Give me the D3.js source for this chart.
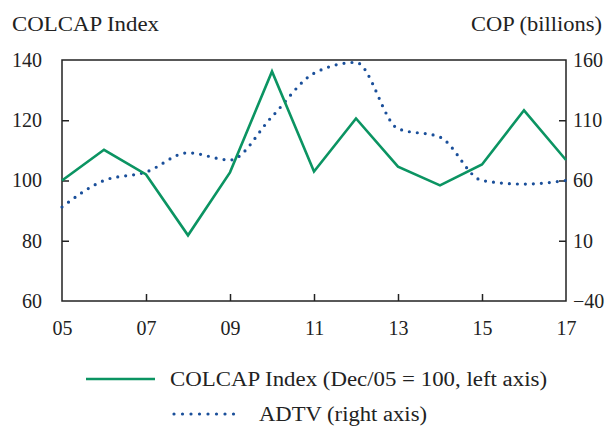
<!DOCTYPE html>
<html><head><meta charset="utf-8">
<script src="https://cdn.jsdelivr.net/npm/d3@7"></script>
<style>
html,body{margin:0;padding:0;background:#fff;}
text{font-family:"Liberation Serif","DejaVu Serif",serif;fill:#222;}
</style></head>
<body><svg id="c" width="605" height="427"></svg>
<script>
const years = [2005,2006,2007,2008,2009,2010,2011,2012,2013,2014,2015,2016,2017];
const colcap = [100,110.2,102,81.8,102.7,136.2,103,120.6,104.6,98.4,105.3,123.3,106.8];
const adtv = [38,60,67,83,77,113,149,158,103,96,60,57,60];
const xTicks = [2005,2007,2009,2011,2013,2015,2017];
const leftTicks = [60,80,100,120,140];
const rightTicks = [-40,10,60,110,160];
const legendLabels = ["COLCAP Index (Dec/05 = 100, left axis)","ADTV (right axis)"];

const svg = d3.select("#c");
const m = {l:62, r:566, t:60, b:301};
const x = d3.scaleLinear().domain([2005,2017]).range([m.l,m.r]);
const yL = d3.scaleLinear().domain([60,140]).range([m.b,m.t]);
const yR = d3.scaleLinear().domain([-40,160]).range([m.b,m.t]);
const green = "#0b9462", blue = "#1a4f9a", axisCol = "#222";
const fs = 20;

// frame
svg.append("rect").attr("x",m.l).attr("y",m.t).attr("width",m.r-m.l).attr("height",m.b-m.t)
  .attr("fill","none").attr("stroke",axisCol).attr("stroke-width",1.5);

// axes
const fmtYr = d => String(d%100).padStart(2,"0");
const ax = svg.append("g").attr("transform",`translate(0,${m.b})`)
  .call(d3.axisBottom(x).tickValues(xTicks).tickFormat(fmtYr).tickSizeInner(-7).tickSizeOuter(0).tickPadding(20));
const al = svg.append("g").attr("transform",`translate(${m.l},0)`)
  .call(d3.axisLeft(yL).tickValues(leftTicks).tickSizeInner(-7).tickSizeOuter(0).tickPadding(20));
const ar = svg.append("g").attr("transform",`translate(${m.r},0)`)
  .call(d3.axisRight(yR).tickValues(rightTicks).tickFormat(d=>d<0?"\u2212"+Math.abs(d):d).tickSizeInner(-7).tickSizeOuter(0).tickPadding(7));
[ax,al,ar].forEach(g=>{
  g.select(".domain").remove();
  g.selectAll("line").attr("stroke",axisCol).attr("stroke-width",1.5);
  g.selectAll("text").attr("font-size",fs).attr("font-family",null).attr("fill","#222");
});
ax.selectAll(".tick").filter(d=>d===2005||d===2017).select("line").remove();
al.selectAll(".tick").filter(d=>d===60||d===140).select("line").remove();
ar.selectAll(".tick").filter(d=>d===-40||d===160).select("line").remove();

// titles
svg.append("text").attr("x",12).attr("y",31).attr("font-size",fs)
  .attr("textLength",147).attr("lengthAdjust","spacingAndGlyphs").text("COLCAP Index");
svg.append("text").attr("x",471).attr("y",31).attr("font-size",fs)
  .attr("textLength",131).attr("lengthAdjust","spacingAndGlyphs").text("COP (billions)");

// lines
const lineL = d3.line().x((d,i)=>x(years[i])).y(d=>yL(d));
const lineR = d3.line().x((d,i)=>x(years[i])).y(d=>yR(d)).curve(d3.curveMonotoneX);
svg.append("path").datum(adtv).attr("d",lineR).attr("fill","none").attr("stroke",blue)
  .attr("stroke-width",3.2).attr("stroke-linecap","round").attr("stroke-dasharray","0 8");
svg.append("path").datum(colcap).attr("d",lineL).attr("fill","none").attr("stroke",green)
  .attr("stroke-width",2.6).attr("stroke-linejoin","miter");

// legend
svg.append("line").attr("x1",86).attr("x2",155).attr("y1",379).attr("y2",379).attr("stroke",green).attr("stroke-width",2.6);
svg.append("text").attr("x",170).attr("y",386).attr("font-size",fs)
  .attr("textLength",377).attr("lengthAdjust","spacingAndGlyphs").text(legendLabels[0]);
svg.append("line").attr("x1",174).attr("x2",242).attr("y1",414).attr("y2",414).attr("stroke",blue)
  .attr("stroke-width",3.2).attr("stroke-linecap","round").attr("stroke-dasharray","0 8.5");
svg.append("text").attr("x",259).attr("y",421).attr("font-size",fs)
  .attr("textLength",168).attr("lengthAdjust","spacingAndGlyphs").text(legendLabels[1]);
</script></body></html>
